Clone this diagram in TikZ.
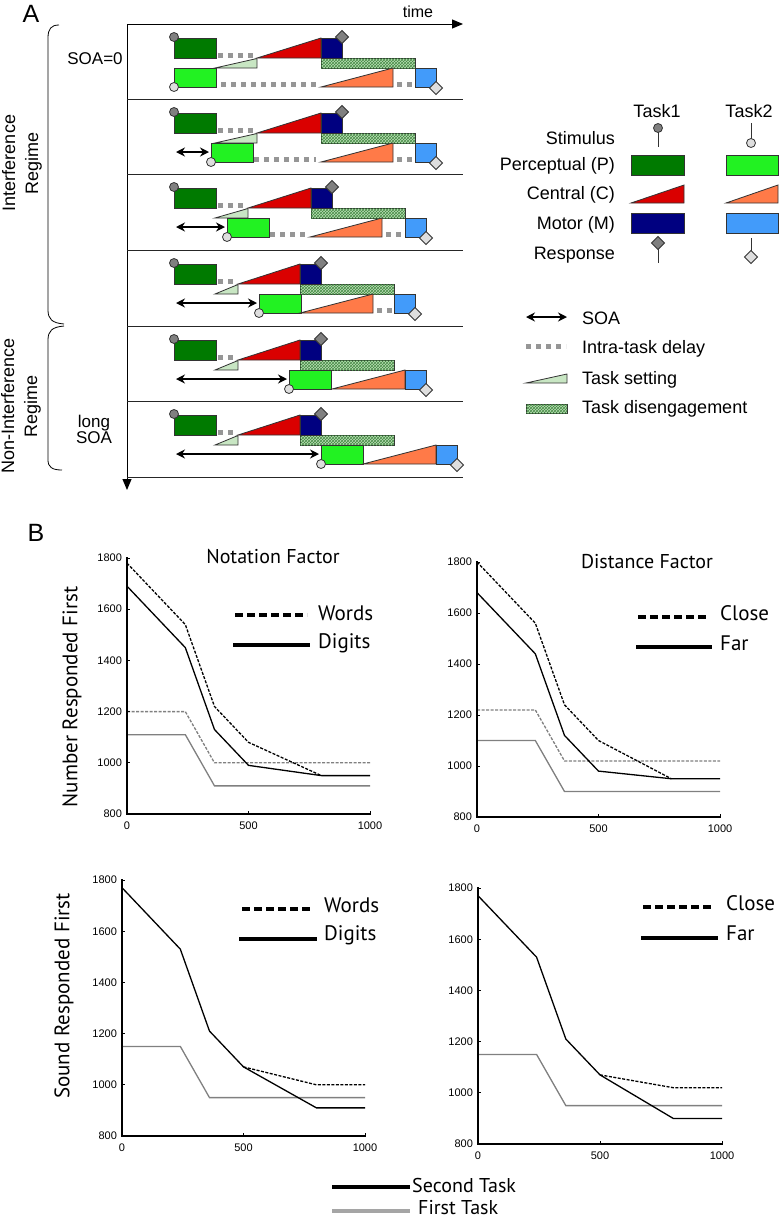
\documentclass[tikz,border=0pt]{standalone}
\usepackage{fontspec}
\setmainfont{Liberation Sans}
\newfontfamily\hfont{PT Sans}
\usetikzlibrary{arrows.meta,patterns}
\definecolor{pone}{RGB}{0,122,0}
\definecolor{ptwo}{RGB}{34,242,34}
\definecolor{cone}{RGB}{218,0,0}
\definecolor{ctwo}{RGB}{255,122,72}
\definecolor{mone}{RGB}{0,0,128}
\definecolor{mtwo}{RGB}{66,155,250}
\definecolor{tset}{RGB}{200,230,195}
\definecolor{dis}{RGB}{185,222,180}
\definecolor{disl}{RGB}{70,140,70}
\definecolor{delay}{RGB}{150,150,150}
\definecolor{sone}{RGB}{128,128,128}
\definecolor{stwo}{RGB}{222,222,222}
\definecolor{graydata}{RGB}{128,128,128}
\definecolor{graylegend}{RGB}{165,165,165}
\newcommand\dstim[3]{\draw[line width=0.8pt, draw=black!80, fill=#3] (#1,#2) circle[radius=4.5pt];}
\newcommand\dresp[3]{\draw[line width=0.8pt, draw=black!80, fill=#3] (#1,#2) ++(-6.5,0) -- ++(6.5,-6.5) -- ++(6.5,6.5) -- ++(-6.5,6.5) -- cycle;}
\tikzset{
  box/.style={draw=black!80, line width=0.8pt},
  disbox/.style={box, fill=dis, postaction={pattern=crosshatch, pattern color=disl}},
  delayline/.style={delay, line width=5pt, dash pattern=on 5pt off 5pt},
  soaarrow/.style={{Stealth[length=9pt,width=9pt]}-{Stealth[length=9pt,width=9pt]}, line width=2.3pt},
  lab/.style={font=\fontsize{18}{22}\selectfont, inner sep=0pt},
  ticklab/.style={font=\fontsize{11}{12}\selectfont, inner sep=0pt},
  btitle/.style={font=\hfont\fontsize{20}{24}\selectfont, inner sep=0pt},
  blab/.style={font=\hfont\fontsize{21}{24}\selectfont, inner sep=0pt},
  axisline/.style={line width=1.4pt, line cap=rect},
  blk/.style={black, line width=1.3pt},
  blkdash/.style={black, line width=1.3pt, dash pattern=on 3pt off 1.5pt},
  gry/.style={graydata, line width=1.3pt},
  grydash/.style={graydata, line width=1.3pt, dash pattern=on 3pt off 1.5pt},
  legsolid/.style={black, line width=3.5pt},
  legdash/.style={black, line width=3.5pt, dash pattern=on 8pt off 4pt},
}
\begin{document}
\begin{tikzpicture}[x=1pt,y=-1pt]
\useasboundingbox (0,0) rectangle (780,1221);
\fill[white] (0,0) rectangle (780,1221);
% ---------------- Panel A ----------------
\node[font=\fontsize{25}{28}\selectfont, inner sep=0pt] (labA) at (31,14) {A};
\coordinate (tstart) at (127,24);
\coordinate (tend) at (463,24);
\coordinate (vend) at (127,490);
\draw[line width=1pt, -{Triangle[length=11pt,width=9pt]}] (tstart) -- (tend);
\draw[line width=1pt, -{Triangle[length=11pt,width=9pt]}] (tstart) -- (vend);
\node[font=\fontsize{16}{19}\selectfont, inner sep=0pt] (timelab) at (418,12) {time};
\foreach \yy in {99,174,250,326,401,477} \draw[line width=1pt, black!85] (127,\yy) -- (463,\yy);
% rows
\foreach \t/\cs/\ce/\de/\ps/\qa/\qb/\cc/\ct/\ms in {
 24/257/321/415/174/221/316/321/393/415,
 99/257/321/415/211/254/316/321/393/415,
 174/248/311/405/227/270/308/310/382/405,
 250/238/300/394/259/0/0/300/373/394,
 326/238/300/394/289/0/0/332/405/405,
 401/238/300/394/321/0/0/363/436/436}{
 \begin{scope}[shift={(0,\t)}]
  \draw[delayline] (218,31) -- ({\cs-2},31);
  \ifnum\qa>0 \draw[delayline] (\qa,60) -- (\qb,60); \fi
  \ifnum\ms>\ct \draw[delayline] ({\ct+4},60) -- ({\ms-2},60); \fi
  \filldraw[box, fill=pone] (174,14) rectangle (216,34);
  \filldraw[box, fill=cone] (\cs,34) -- (\ce,34) -- (\ce,14) -- cycle;
  \filldraw[disbox] (\ce,34) rectangle (\de,44);
  \filldraw[box, fill=mone] (\ce,14) rectangle ({\ce+21},34);
  \filldraw[box, fill=tset] (215,44) -- (\cs,44) -- (\cs,34.5) -- cycle;
  \filldraw[box, fill=ptwo] (\ps,44) rectangle ({\ps+42},63);
  \filldraw[box, fill=ctwo] (\cc,63) -- (\ct,63) -- (\ct,44) -- cycle;
  \filldraw[box, fill=mtwo] (\ms,44) rectangle ({\ms+21},63);
  \dstim{174}{13}{sone}
  \dstim{\ps}{63}{stwo}
  \dresp{\ce+21}{13}{sone}
  \dresp{\ms+21}{64}{stwo}
  \ifnum\ps>174 \draw[soaarrow] (176,53) -- ({\ps-2},53); \fi
 \end{scope}
}
\node[font=\fontsize{17}{20}\selectfont, inner sep=0pt] (soa0) at (95,59) {SOA=0};
\node[font=\fontsize{17}{17}\selectfont, inner sep=0pt, align=center] (longsoa) at (94,429) {long\\[-1pt]SOA};
% braces
\draw[line width=0.8pt] (59,25) .. controls (51,25) and (48,29) .. (48,38) -- (48,310) .. controls (48,319) and (52,323) .. (64,324);
\draw[line width=0.8pt] (64,326) .. controls (52,327) and (48,331) .. (48,340) -- (48,460) .. controls (48,467) and (52,470) .. (62,470);
\node[font=\fontsize{18}{23}\selectfont, inner sep=0pt, align=center, rotate=90] (intreg) at (22,163) {Interference\\Regime};
\node[font=\fontsize{18}{23}\selectfont, inner sep=0pt, align=center, rotate=90] (nonreg) at (21,406) {Non-Interference\\Regime};
% legend
\node[lab] (task1) at (657,111) {Task1};
\node[lab] (task2) at (749,111) {Task2};
\node[lab, anchor=east] (stimlab) at (615,138) {Stimulus};
\node[lab, anchor=east] (perclab) at (615,166) {Perceptual (P)};
\node[lab, anchor=east] (centlab) at (615,195) {Central (C)};
\node[lab, anchor=east] (motlab) at (615,225) {Motor (M)};
\node[lab, anchor=east] (resplab) at (615,255) {Response};
\draw[line width=0.8pt, black!80] (658,132) -- (658,147);
\dstim{658}{128}{sone}
\draw[line width=0.8pt, black!80] (751,123) -- (751,139);
\dstim{751}{143}{stwo}
\filldraw[box, fill=pone] (631,155) rectangle (684,175);
\filldraw[box, fill=ptwo] (726,155) rectangle (778,175);
\filldraw[box, fill=cone] (631,203) -- (684,203) -- (684,185) -- cycle;
\filldraw[box, fill=ctwo] (726,203) -- (778,203) -- (778,185) -- cycle;
\filldraw[box, fill=mone] (631,213) rectangle (684,233);
\filldraw[box, fill=mtwo] (726,213) rectangle (778,233);
\draw[line width=0.8pt, black!80] (658,249) -- (658,263);
\dresp{658}{243}{sone}
\draw[line width=0.8pt, black!80] (751,238) -- (751,251);
\dresp{751}{257}{stwo}
\coordinate (soaL) at (526,317);
\coordinate (soaR) at (567,317);
\draw[soaarrow] (soaL) -- (soaR);
\node[lab, anchor=west] (soalab) at (582,318) {SOA};
\draw[delayline] (526,346) -- (566,346);
\node[lab, anchor=west] (delaylab) at (582,349) {Intra-task delay};
\filldraw[box, fill=tset] (526,383) -- (567,383) -- (567,374) -- cycle;
\node[lab, anchor=west] (tsetlab) at (582,380) {Task setting};
\filldraw[disbox] (526,404) rectangle (567,413);
\node[lab, anchor=west] (dislab) at (582,409) {Task disengagement};
% ---------------- Panel B ----------------
\node[font=\fontsize{25}{28}\selectfont, inner sep=0pt] (labB) at (36,533) {B};
% plot 1
\begin{scope}[shift={(127,814)}, x=0.243pt, y=0.256pt]
  \draw[gry] (0,310) -- (240,310) -- (360,110) -- (1000,110);
  \draw[grydash] (0,400) -- (240,400) -- (360,200) -- (1000,200);
  \draw[blkdash] (0,980) -- (240,740) -- (360,420) -- (500,280) -- (800,150);
  \draw[blk] (0,890) -- (240,650) -- (360,330) -- (500,190) -- (800,150) -- (1000,150);
  \draw[axisline] (0,1000) -- (0,0) -- (1000,0);
  \foreach \v/\l in {0/800,200/1000,400/1200,600/1400,800/1600,1000/1800}{
    \draw[line width=1pt] (0,\v) -- (14,\v);
    \node[ticklab, anchor=east] at (-20,\v) {\l};}
  \foreach \u in {0,500,1000}{
    \draw[line width=1pt] (\u,0) -- (\u,12);
    \node[ticklab, anchor=north] at (\u,-30) {\u};}
\end{scope}
\node[btitle] (t1) at (273,557) {Notation Factor};
\node[blab, rotate=90] (y1) at (72,697) {Number Responded First};
\draw[legdash] (235,615) -- (307,615);
\node[blab, anchor=west] (w1) at (318,613) {Words};
\draw[legsolid] (233,645) -- (310,645);
\node[blab, anchor=west] (d1) at (318,643) {Digits};
% plot 2
\begin{scope}[shift={(477,817)}, x=0.243pt, y=0.255pt]
  \draw[gry] (0,300) -- (240,300) -- (360,100) -- (1000,100);
  \draw[grydash] (0,420) -- (240,420) -- (360,220) -- (1000,220);
  \draw[blkdash] (0,1000) -- (240,760) -- (360,440) -- (500,300) -- (800,150);
  \draw[blk] (0,880) -- (240,640) -- (360,320) -- (500,180) -- (800,150) -- (1000,150);
  \draw[axisline] (0,1000) -- (0,0) -- (1000,0);
  \foreach \v/\l in {0/800,200/1000,400/1200,600/1400,800/1600,1000/1800}{
    \draw[line width=1pt] (0,\v) -- (14,\v);
    \node[ticklab, anchor=east] at (-20,\v) {\l};}
  \foreach \u in {0,500,1000}{
    \draw[line width=1pt] (\u,0) -- (\u,12);
    \node[ticklab, anchor=north] at (\u,-30) {\u};}
\end{scope}
\node[btitle] (t2) at (647,562) {Distance Factor};
\draw[legdash] (638,617) -- (708,617);
\node[blab, anchor=west] (c2) at (720,613) {Close};
\draw[legsolid] (636,647) -- (712,647);
\node[blab, anchor=west] (f2) at (720,643) {Far};
% plot 3
\begin{scope}[shift={(122,1136)}, x=0.243pt, y=0.256pt]
  \draw[gry] (0,350) -- (240,350) -- (360,150) -- (1000,150);
  \draw[blkdash] (500,270) -- (800,200) -- (1000,200);
  \draw[blk] (0,970) -- (240,730) -- (360,410) -- (500,270) -- (800,110) -- (1000,110);
  \draw[axisline] (0,1000) -- (0,0) -- (1000,0);
  \foreach \v/\l in {0/800,200/1000,400/1200,600/1400,800/1600,1000/1800}{
    \draw[line width=1pt] (0,\v) -- (14,\v);
    \node[ticklab, anchor=east] at (-20,\v) {\l};}
  \foreach \u in {0,500,1000}{
    \draw[line width=1pt] (\u,0) -- (\u,12);
    \node[ticklab, anchor=north] at (\u,-30) {\u};}
\end{scope}
\node[blab, rotate=90] (y3) at (64,996) {Sound Responded First};
\draw[legdash] (242,909) -- (312,909);
\node[blab, anchor=west] (w3) at (324,905) {Words};
\draw[legsolid] (239,939) -- (317,939);
\node[blab, anchor=west] (d3) at (324,935) {Digits};
% plot 4
\begin{scope}[shift={(478,1144)}, x=0.244pt, y=0.256pt]
  \draw[gry] (0,350) -- (240,350) -- (360,150) -- (1000,150);
  \draw[blkdash] (500,270) -- (800,220) -- (1000,220);
  \draw[blk] (0,970) -- (240,730) -- (360,410) -- (500,270) -- (800,100) -- (1000,100);
  \draw[axisline] (0,1000) -- (0,0) -- (1000,0);
  \foreach \v/\l in {0/800,200/1000,400/1200,600/1400,800/1600,1000/1800}{
    \draw[line width=1pt] (0,\v) -- (14,\v);
    \node[ticklab, anchor=east] at (-20,\v) {\l};}
  \foreach \u in {0,500,1000}{
    \draw[line width=1pt] (\u,0) -- (\u,12);
    \node[ticklab, anchor=north] at (\u,-30) {\u};}
\end{scope}
\draw[legdash] (643,907) -- (713,907);
\node[blab, anchor=west] (c4) at (726,903) {Close};
\draw[legsolid] (641,938) -- (718,938);
\node[blab, anchor=west] (f4) at (726,933) {Far};
% bottom legend
\draw[legsolid] (332,1187) -- (410,1187);
\node[font=\hfont\fontsize{20}{22}\selectfont, inner sep=0pt, anchor=west] (sec) at (412,1185) {Second Task};
\draw[graylegend, line width=3.5pt] (332,1211) -- (410,1211);
\node[font=\hfont\fontsize{20}{22}\selectfont, inner sep=0pt, anchor=west] (fir) at (418,1208) {First Task};
\end{tikzpicture}
\end{document}
